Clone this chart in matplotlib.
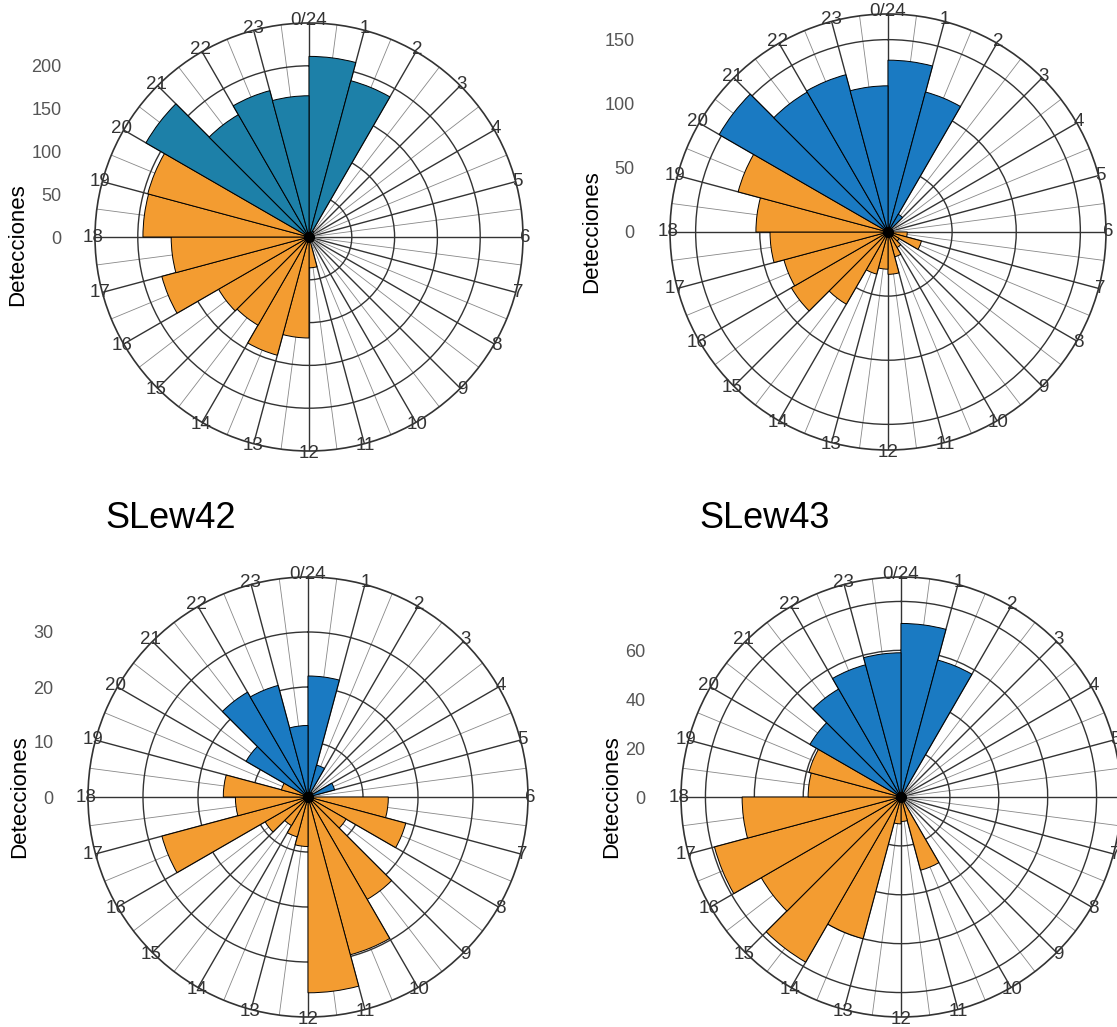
import matplotlib.pyplot as plt
import numpy as np

plt.rcParams['font.family'] = ['Liberation Sans', 'DejaVu Sans']

W, H = 1117, 1027

hours = np.arange(24)
hour_labels = ['0/24'] + [str(h) for h in range(1, 24)]

# detections per hour bin (bin h = h..h+1)
top_left = [211, 189, 8, 3, 2, 1, 1, 1, 2, 3, 6, 36,
            118, 143, 119, 122, 178, 161, 194, 195, 220, 165, 177, 165]
top_right = [134, 113, 16, 3, 2, 2, 15, 27, 10, 14, 20, 33,
             29, 34, 65, 87, 84, 92, 103, 121, 152, 126, 127, 114]
bottom_left = [22, 6, 1, 1, 5, 1, 14.6, 18.4, 8, 21.5, 29.7, 35.6,
               9, 7.5, 6, 9, 27.5, 13.2, 15.4, 5, 13, 22, 21, 13]
bottom_right = [71, 58, 1, 1, 0.5, 0.5, 1, 1, 1, 2, 31, 10,
                11, 60, 78, 66, 79, 65, 38, 39, 43, 51, 56, 59]

orange = '#F39C31'


def draw_panel(cx, cy, R, vals, rmax, rings, left_ticks, blue, tick_right, lab_x, lab_y):
    ax = fig.add_axes([(cx - R) / W, 1 - (cy + R) / H, 2 * R / W, 2 * R / H], projection='polar')
    ax.set_theta_zero_location('N')
    ax.set_theta_direction(-1)
    theta = np.deg2rad(hours * 15)
    colors = [blue if (h >= 20 or h < 6) else orange for h in hours]
    ax.bar(theta, vals, width=np.deg2rad(15), align='edge', color=colors,
           edgecolor='black', linewidth=0.7, zorder=3)
    ax.set_ylim(0, rmax)
    ax.set_yticks(rings)
    ax.set_yticklabels([])
    ax.set_xticks(np.deg2rad(np.arange(0, 360, 15)))
    ax.set_xticklabels([])
    ax.set_xticks(np.deg2rad(np.arange(7.5, 360, 15)), minor=True)
    ax.grid(True, which='major', color='#333333', lw=1.0)
    ax.xaxis.grid(True, which='minor', color='#888888', lw=0.6)
    ax.set_axisbelow(True)
    ax.tick_params(axis='both', which='both', length=0)
    ax.spines['polar'].set_color('#333333')
    ax.spines['polar'].set_linewidth(1.2)
    ax.plot(0, 0, 'o', color='black', ms=7, zorder=5)
    for h in hours:
        ax.text(np.deg2rad(h * 15), rmax * 1.01, hour_labels[h], ha='center', va='center',
                fontsize=13.5, color='#333333', clip_on=False, zorder=6)

    # left radial scale
    ax2 = fig.add_axes([(tick_right + 4) / W, 1 - (cy + R) / H, 2 / W, 2 * R / H])
    ax2.set_ylim(-rmax, rmax)
    ax2.set_yticks(left_ticks)
    ax2.set_yticklabels([str(t) for t in left_ticks])
    ax2.tick_params(axis='y', length=0, pad=4, labelsize=13, labelcolor='#555555')
    ax2.set_xticks([])
    for s in ax2.spines.values():
        s.set_visible(False)
    ax2.patch.set_visible(False)
    fig.text(lab_x / W, 1 - lab_y / H, 'Detecciones', rotation=90, ha='center', va='center',
             fontsize=16, color='black')


fig = plt.figure(figsize=(W / 100, H / 100), dpi=100)

draw_panel(309, 237, 214, top_left, 250, [50, 100, 150, 200], [0, 50, 100, 150, 200],
           '#1D80A8', 63, 18, 245)
draw_panel(888, 232, 218, top_right, 170, [50, 100, 150], [0, 50, 100, 150],
           '#1A7AC2', 636, 592, 232)
draw_panel(308, 797, 220, bottom_left, 40, [10, 20, 30], [0, 10, 20, 30],
           '#1A7AC2', 55, 20, 797)
draw_panel(901, 797, 220, bottom_right, 90, [20, 40, 60, 80], [0, 20, 40, 60],
           '#1A7AC2', 647, 612, 797)

fig.text(171 / W, 1 - 518 / H, 'SLew42', ha='center', va='center', fontsize=26)
fig.text(765 / W, 1 - 518 / H, 'SLew43', ha='center', va='center', fontsize=26)

fig.savefig('out.png', dpi=100)
